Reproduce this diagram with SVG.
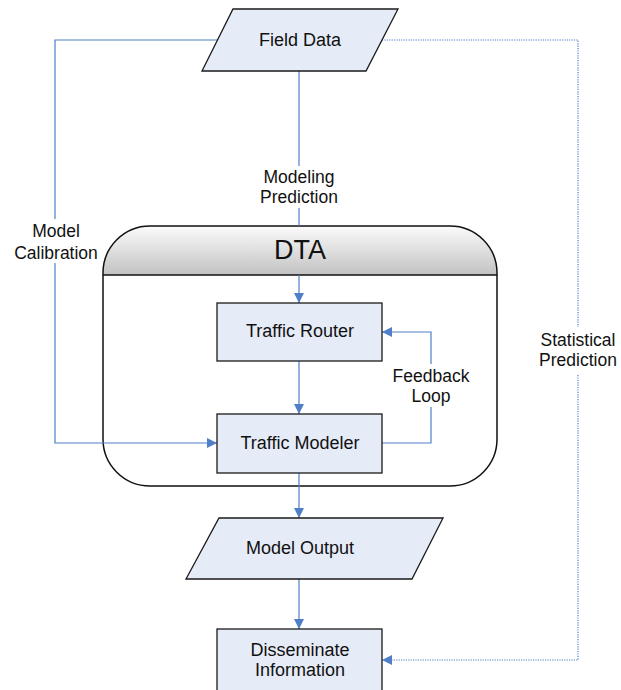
<svg xmlns="http://www.w3.org/2000/svg" width="621" height="690" viewBox="0 0 621 690">
<style>
.node{fill:#e6ecf7;stroke:#1a1a1a;stroke-width:1.3}
.txt{font-family:"Liberation Sans",Arial,sans-serif;font-size:18px;fill:#111;text-anchor:middle}
.lbl{font-family:"Liberation Sans",Arial,sans-serif;font-size:17.5px;fill:#111;text-anchor:middle}
.conn{fill:none;stroke:#4f7fc6;stroke-width:1.2}
.dot{fill:none;stroke:#4f7fc6;stroke-width:1.2;stroke-dasharray:1.2 1.2}
</style>
<defs>
<linearGradient id="hdr" x1="0" y1="0" x2="0" y2="1">
<stop offset="0" stop-color="#fbfbfb"/>
<stop offset="1" stop-color="#c2c2c2"/>
</linearGradient>
<marker id="arr" viewBox="0 0 10 10" refX="10" refY="5" markerWidth="10" markerHeight="10" markerUnits="userSpaceOnUse" orient="auto">
<path d="M0,0 L10,5 L0,10 Z" fill="#4f7fc6"/>
</marker>
</defs>

<g id="dta">
<path d="M103,275 L103,273 A47,47 0 0 1 150,226 L450,226 A47,47 0 0 1 497,273 L497,275 Z" fill="url(#hdr)"/>
<path d="M103,275 L103,439 A47,47 0 0 0 150,486 L450,486 A47,47 0 0 0 497,439 L497,273 A47,47 0 0 0 450,226 L150,226 A47,47 0 0 0 103,273 Z" fill="none" stroke="#111" stroke-width="1.5"/>
<line x1="103" y1="275" x2="497" y2="275" stroke="#111" stroke-width="1.5"/>
<text x="300" y="259" class="txt" style="font-size:27px">DTA</text>
</g>

<g id="connectors">
<path class="conn" d="M299,71 L299,166"/>
<path class="conn" d="M299,208 L299,226"/>
<path class="conn" d="M299,275 L299,303" marker-end="url(#arr)"/>
<path class="conn" d="M299,361 L299,414" marker-end="url(#arr)"/>
<path class="conn" d="M299,473 L299,518" marker-end="url(#arr)"/>
<path class="conn" d="M299,579 L299,629" marker-end="url(#arr)"/>
<path class="conn" d="M217.5,40 L55,40 L55,219"/>
<path class="conn" d="M55,263 L55,443 L217,443" marker-end="url(#arr)"/>
<path class="conn" d="M382,443 L431,443 L431,407"/>
<path class="conn" d="M431,364 L431,332 L382,332" marker-end="url(#arr)"/>
<path class="dot" d="M382,40 L578,40 L578,327"/>
<path class="dot" d="M578,375 L578,660 L382,660" marker-end="url(#arr)"/>
<text x="299" y="183" class="lbl">Modeling</text>
<text x="299" y="203" class="lbl">Prediction</text>
<text x="56" y="237" class="lbl">Model</text>
<text x="56" y="259" class="lbl">Calibration</text>
<text x="431" y="382" class="lbl">Feedback</text>
<text x="431" y="402" class="lbl">Loop</text>
<text x="578" y="346" class="lbl">Statistical</text>
<text x="578" y="366" class="lbl">Prediction</text>
</g>

<g id="field-data">
<polygon class="node" points="233,9 398,9 366,71 202,71"/>
<text x="300" y="46" class="txt">Field Data</text>
</g>

<g id="traffic-router">
<rect class="node" x="217" y="303" width="165" height="58"/>
<text x="300" y="337" class="txt">Traffic Router</text>
</g>

<g id="traffic-modeler">
<rect class="node" x="217" y="414" width="165" height="59"/>
<text x="300" y="449" class="txt">Traffic Modeler</text>
</g>

<g id="model-output">
<polygon class="node" points="219,518 443,518 412,579 186,579"/>
<text x="300" y="554" class="txt">Model Output</text>
</g>

<g id="disseminate-information">
<rect class="node" x="217" y="629" width="165" height="70"/>
<text x="300" y="656" class="txt">Disseminate</text>
<text x="300" y="676" class="txt">Information</text>
</g>
</svg>
